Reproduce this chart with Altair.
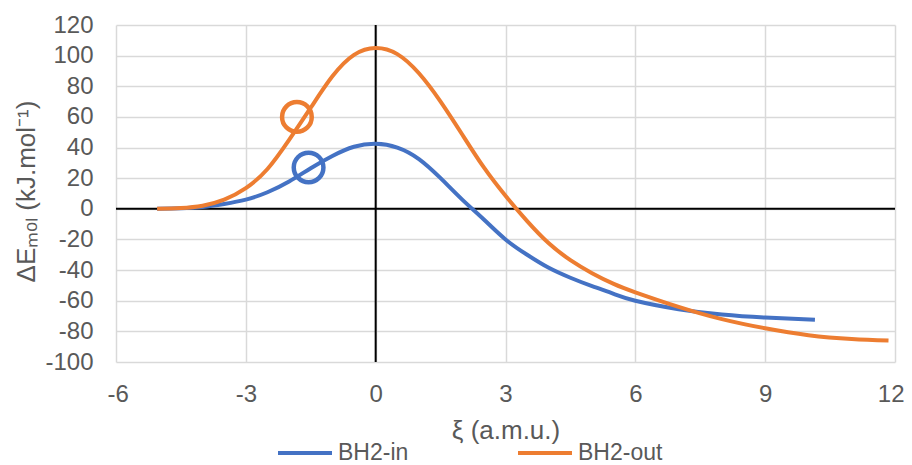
import altair as alt
import pandas as pd

# --- data ---
in_x = [-5.05, -4.5, -4.0, -3.5, -3.0, -2.5, -2.0, -1.5, -1.0, -0.5, 0.0, 0.5, 1.0, 1.5, 2.0, 2.5,
        3.0, 3.5, 4.0, 4.5, 5.0, 5.5, 6.0, 7.0, 8.0, 9.0, 10.15]
in_y = [0.0, 0.3, 1.2, 3.2, 6.0, 10.8, 17.8, 26.5, 34.5, 40.5, 42.5, 40.0, 32.5, 20.0, 6.0, -7.0,
        -20.0, -30.0, -38.5, -45.0, -50.5, -55.5, -60.0, -65.5, -69.0, -71.0, -72.4]

out_x = [-5.05, -4.5, -4.0, -3.5, -3.0, -2.5, -2.0, -1.5, -1.0, -0.5, 0.0, 0.5, 1.0, 1.5, 2.0, 2.5,
         3.0, 3.5, 4.0, 4.5, 5.0, 5.5, 6.0, 7.0, 8.0, 9.0, 10.0, 11.0, 11.85]
out_y = [0.0, 0.5, 2.0, 6.0, 13.5, 26.0, 45.0, 66.0, 86.5, 100.5, 105.0, 101.0, 88.5, 70.0, 48.5, 27.0,
         8.5, -8.0, -22.5, -33.5, -42.0, -49.0, -54.5, -64.0, -72.0, -78.0, -82.5, -85.0, -86.0]

series_names = ["BH2-in", "BH2-out"]
series_colors = ["#4472C4", "#ED7D31"]

marker_series = ["BH2-in", "BH2-out"]
marker_x = [-1.55, -1.82]
marker_y = [27.0, 60.0]

x_ticks = [-6, -3, 0, 3, 6, 9, 12]
y_ticks = [-100, -80, -60, -40, -20, 0, 20, 40, 60, 80, 100, 120]

# --- tables ---
lines_df = pd.concat([
    pd.DataFrame({"xi": in_x, "dE": in_y, "series": "BH2-in"}),
    pd.DataFrame({"xi": out_x, "dE": out_y, "series": "BH2-out"}),
], ignore_index=True)
markers_df = pd.DataFrame({"xi": marker_x, "dE": marker_y, "series": marker_series})
vzero_df = pd.DataFrame({"xi": [0], "y1": [y_ticks[0]], "y2": [y_ticks[-1]]})
hzero_df = pd.DataFrame({"dE": [0], "x1": [x_ticks[0]], "x2": [x_ticks[-1]]})

FONT = "Liberation Sans, Arial, sans-serif"
GRAY = "#595959"
LABEL_EXPR = "'' + datum.value"

xscale = alt.Scale(domain=[x_ticks[0], x_ticks[-1]], nice=False, zero=False)
yscale = alt.Scale(domain=[y_ticks[0], y_ticks[-1]], nice=False, zero=False)

xaxis = alt.Axis(values=x_ticks, labelExpr=LABEL_EXPR, labelOverlap=False, labelBound=False,
                 labelFlush=True, labelFlushOffset=9, title="ξ (a.m.u.)", titleX=389.5, titleY=76,
                 titleAlign="center", titleBaseline="alphabetic")
yaxis = alt.Axis(values=y_ticks, labelExpr=LABEL_EXPR, labelOverlap=False, labelBound=False,
                 labelFlush=False, title="ΔEₘₒₗ (kJ.mol⁻¹)", titleAngle=270,
                 titleX=-82, titleY=166, titleAlign="center", titleBaseline="alphabetic")

vzero = alt.Chart(vzero_df).mark_rule(color="black", strokeWidth=2).encode(
    x=alt.X("xi:Q", scale=xscale, axis=xaxis),
    y=alt.Y("y1:Q", scale=yscale, axis=yaxis),
    y2="y2:Q",
)
hzero = alt.Chart(hzero_df).mark_rule(color="black", strokeWidth=2).encode(
    x=alt.X("x1:Q", scale=xscale, axis=xaxis),
    x2="x2:Q",
    y=alt.Y("dE:Q", scale=yscale, axis=yaxis),
)

lines = alt.Chart(lines_df).mark_line(strokeWidth=4, interpolate="natural").encode(
    x=alt.X("xi:Q", scale=xscale, axis=xaxis),
    y=alt.Y("dE:Q", scale=yscale, axis=yaxis),
    color=alt.Color("series:N",
                    scale=alt.Scale(domain=series_names, range=series_colors),
                    legend=alt.Legend(title=None, orient="none", legendX=160, legendY=399,
                                      direction="horizontal", symbolType="stroke",
                                      symbolSize=2916, symbolStrokeWidth=4,
                                      labelFontSize=23, labelFont=FONT, labelColor=GRAY,
                                      labelOffset=4, columnPadding=101)),
    order="xi:Q",
)

circle_layers = []
for name, col in zip(series_names, series_colors):
    circle_layers.append(
        alt.Chart(markers_df).transform_filter(alt.datum.series == name)
        .mark_point(shape="circle", filled=False, size=880, strokeWidth=4.5, color=col, opacity=1)
        .encode(x=alt.X("xi:Q", scale=xscale, axis=xaxis), y=alt.Y("dE:Q", scale=yscale, axis=yaxis))
    )

chart = alt.layer(vzero, hzero, lines, *circle_layers).properties(
    width=779, height=337,
    autosize=alt.AutoSizeParams(type="none"),
    padding={"left": 108, "top": 17, "right": 9, "bottom": 103},
).configure_view(stroke=None).configure_axis(
    domain=False, ticks=False, grid=True, gridColor="#d9d9d9", gridWidth=1.5,
    labelOverlap=False, labelBound=False,
    labelFont=FONT, labelFontSize=24, labelColor=GRAY,
    titleFont=FONT, titleFontSize=26, titleFontWeight="normal", titleColor=GRAY,
).configure_axisX(labelPadding=20).configure_axisY(labelPadding=23)

chart.save("out.html", embed_options={"renderer": "svg", "actions": False})
